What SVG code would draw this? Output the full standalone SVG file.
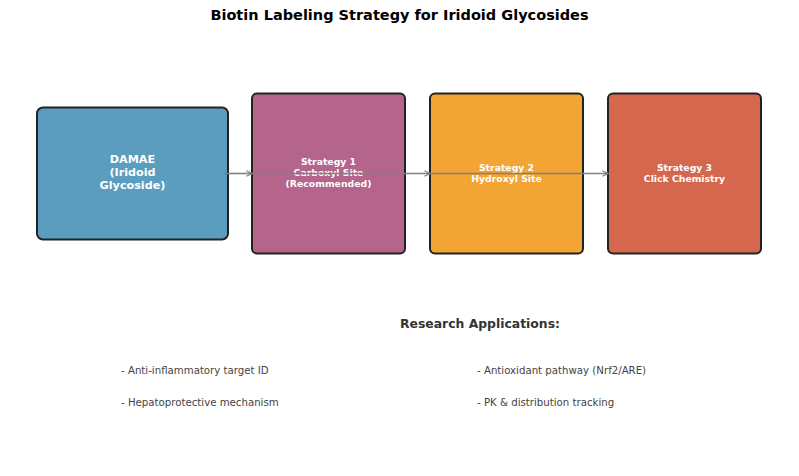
<svg xmlns="http://www.w3.org/2000/svg" width="799" height="476" viewBox="0 0 799 476">
<defs>
<style>
.box{stroke:#222;stroke-width:2}
.lbl{font-family:"DejaVu Sans",sans-serif;font-weight:bold;fill:#fff;text-anchor:middle}
.conn{stroke:#808080;stroke-width:1.6;fill:none;marker-end:url(#ah)}
.item{font-family:"DejaVu Sans",sans-serif;font-size:10.2px;fill:#444}
</style>
<marker id="ah" viewBox="0 0 10 10" refX="9" refY="5" markerWidth="7" markerHeight="7" markerUnits="userSpaceOnUse" orient="auto">
<path d="M1,1 L9,5 L1,9" fill="none" stroke="#808080" stroke-width="1.6"/>
</marker>
</defs>
<rect width="799" height="476" fill="#fff"/>
<text x="399.5" y="20" font-family="DejaVu Sans,sans-serif" font-weight="bold" font-size="14.5" text-anchor="middle" fill="#000">Biotin Labeling Strategy for Iridoid Glycosides</text>
<g id="damae">
<rect class="box" x="37" y="107.5" width="191" height="132" rx="6" fill="#5A9DBE" stroke-width="2.5"/>
<text class="lbl" font-size="11.2" x="132.5" y="163">DAMAE</text>
<text class="lbl" font-size="11.2" x="132.5" y="176">(Iridoid</text>
<text class="lbl" font-size="11.2" x="132.5" y="189">Glycoside)</text>
</g>
<g id="strategy1">
<rect class="box" x="252" y="93.5" width="153" height="160" rx="5" fill="#B5648C"/>
<text class="lbl" font-size="9.3" x="328.5" y="165">Strategy 1</text>
<text class="lbl" font-size="9.3" x="328.5" y="176">Carboxyl Site</text>
<text class="lbl" font-size="9.3" x="328.5" y="187">(Recommended)</text>
</g>
<g id="strategy2">
<rect class="box" x="430" y="93.5" width="153" height="160" rx="5" fill="#F2A534"/>
<text class="lbl" font-size="9.3" x="506.5" y="170.5">Strategy 2</text>
<text class="lbl" font-size="9.3" x="506.5" y="181.5">Hydroxyl Site</text>
</g>
<g id="strategy3">
<rect class="box" x="608" y="93.5" width="153" height="160" rx="5" fill="#D4674D"/>
<text class="lbl" font-size="9.3" x="684.5" y="170.5">Strategy 3</text>
<text class="lbl" font-size="9.3" x="684.5" y="181.5">Click Chemistry</text>
</g>
<g id="connectors">
<line class="conn" x1="224" y1="173.5" x2="252" y2="173.5"/>
<line class="conn" x1="252" y1="173.5" x2="430" y2="173.5"/>
<line class="conn" x1="430" y1="173.5" x2="608" y2="173.5"/>
</g>
<g id="applications">
<text x="480" y="327.5" font-family="DejaVu Sans,sans-serif" font-weight="bold" font-size="12.4" text-anchor="middle" fill="#333">Research Applications:</text>
<text class="item" x="121" y="374">- Anti-inflammatory target ID</text>
<text class="item" x="121" y="406">- Hepatoprotective mechanism</text>
<text class="item" x="477" y="374">- Antioxidant pathway (Nrf2/ARE)</text>
<text class="item" x="477" y="406">- PK &amp; distribution tracking</text>
</g>
</svg>
